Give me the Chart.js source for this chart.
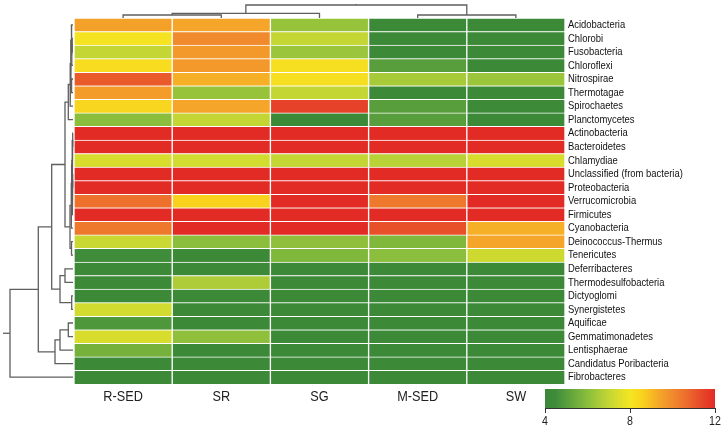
<!DOCTYPE html>
<html><head><meta charset="utf-8">
<script src="https://cdn.jsdelivr.net/npm/chart.js@4.4.1/dist/chart.umd.min.js"></script>
<style>
html,body{margin:0;padding:0;background:#fff;}
#wrap{position:relative;width:724px;height:429px;background:#fff;}
#wrap canvas{position:absolute;left:0;top:0;width:724px;height:429px;}
</style></head><body>
<div id="wrap">
<canvas id="heat" width="724" height="429"></canvas>
<canvas id="dleft" width="724" height="429"></canvas>
<canvas id="dtop" width="724" height="429"></canvas>
<canvas id="cbar" width="724" height="429"></canvas>
</div>
<script>
// ---------- data ----------
const columns = ['R-SED', 'SR', 'SG', 'M-SED', 'SW'];
const phyla = ['Acidobacteria','Chlorobi','Fusobacteria','Chloroflexi','Nitrospirae','Thermotagae',
  'Spirochaetes','Planctomycetes','Actinobacteria','Bacteroidetes','Chlamydiae',
  'Unclassified (from bacteria)','Proteobacteria','Verrucomicrobia','Firmicutes','Cyanobacteria',
  'Deinococcus-Thermus','Tenericutes','Deferribacteres','Thermodesulfobacteria','Dictyoglomi',
  'Synergistetes','Aquificae','Gemmatimonadetes','Lentisphaerae','Candidatus Poribacteria','Fibrobacteres'];
const valRSED = [9.5, 8.1, 7.0, 8.3, 11.0, 9.6, 8.5, 6.0, 12, 12, 7.4, 12, 12, 10.6, 12, 10.4, 7.1, 4.5, 4.2, 4.2, 4.2, 7.3, 4.8, 7.4, 5.6, 4.2, 4.2];
const valSR   = [9.4, 10.0, 9.7, 9.7, 9.2, 6.2, 9.4, 7.0, 12, 12, 7.3, 12, 12, 8.6, 12, 12, 6.0, 4.2, 4.2, 6.6, 4.2, 4.2, 4.2, 6.1, 4.2, 4.2, 4.2];
const valSG   = [6.2, 7.0, 6.3, 8.2, 8.2, 7.0, 11.5, 4.2, 12, 12, 7.0, 12, 12, 12, 12, 12, 6.1, 5.8, 4.2, 4.2, 4.2, 4.2, 4.2, 4.2, 4.2, 4.2, 4.2];
const valMSED = [4.2, 4.2, 4.2, 5.0, 6.5, 4.2, 5.0, 5.0, 12, 12, 6.8, 12, 12, 10.4, 12, 11.2, 5.8, 6.0, 4.2, 4.2, 4.2, 4.2, 4.2, 4.2, 4.2, 4.2, 4.2];
const valSW   = [4.2, 4.2, 4.2, 4.2, 6.3, 4.2, 4.3, 4.2, 12, 12, 7.4, 12, 12, 12, 12, 9.2, 9.4, 7.2, 4.2, 4.2, 4.2, 4.2, 4.2, 4.2, 4.2, 4.2, 4.2];
const colorbarTicks = [4, 8, 12];

// row dendrogram (hclust-style merges: negative = leaf -(index+1), positive = earlier merge number)
const rowMerges = [[-2,-3],[1,-4],[-1,2],[-5,-6],[3,4],[5,-7],[6,-8],
  [-9,-10],[-12,-13],[9,-15],[8,10],[11,-11],[12,-14],[13,-16],[-17,-18],[14,15],[7,16],
  [-19,-20],[-21,-22],[18,19],[17,20],[-23,-24],[22,-25],[23,-26],[21,24],[25,-27]];
const rowHeights = [0.8,1.2,1.6,1.4,2.2,2.8,4.7,
  0.3,0.3,0.6,0.9,1.1,1.4,1.7,1.5,3.0,8.0,
  8.0,1.3,13,21.3,4.7,13,18,34.7,63];
const rowRootTop = 70;
// column dendrogram
const colMerges = [[-1,-2],[1,-3],[-4,-5],[2,3]];
const colHeights = [3, 4.7, 3, 13];
const colRootTop = 14;

// ---------- colour map ----------
const cmap = [
  [4.0,[58,135,55]],[4.5,[63,140,58]],[5.0,[88,158,60]],[6.0,[138,190,60]],[7.0,[196,214,52]],
  [8.0,[244,230,34]],[8.6,[249,210,30]],[9.3,[246,170,40]],[10.0,[240,138,44]],[10.6,[237,112,45]],
  [11.2,[232,80,42]],[12.0,[227,43,38]]];
function colorFor(v){
  if (v <= cmap[0][0]) return 'rgb(' + cmap[0][1].join(',') + ')';
  for (let i = 1; i < cmap.length; i++){
    if (v <= cmap[i][0]){
      const t = (v - cmap[i-1][0]) / (cmap[i][0] - cmap[i-1][0]);
      const a = cmap[i-1][1], b = cmap[i][1];
      return 'rgb(' + a.map((c,k)=>Math.round(c + (b[k]-c)*t)).join(',') + ')';
    }
  }
  return 'rgb(' + cmap[cmap.length-1][1].join(',') + ')';
}

const FONT = "'Liberation Sans',Arial,sans-serif";
// narrow (condensed) text rendering, like Arial Narrow in the original figure
const condense = {
  id: 'condense',
  beforeDraw(chart){
    const ctx = chart.ctx;
    if (ctx._condensed) return;
    const orig = ctx.fillText.bind(ctx);
    ctx.fillText = function(t, x, y){
      this.save(); this.translate(x, y); this.scale(0.82, 1); orig(t, 0, 0); this.restore();
    };
    ctx._condensed = true;
  }
};

// ---------- heatmap ----------
const seriesVals = [valRSED, valSR, valSG, valMSED, valSW];
new Chart(document.getElementById('heat'), {
  type: 'bar',
  plugins: [condense],
  data: {
    labels: phyla,
    datasets: seriesVals.map((vals, j) => ({
      label: columns[j],
      data: phyla.map(() => [j, j + 1]),
      backgroundColor: vals.map(colorFor),
      borderColor: '#ffffff',
      borderWidth: {top: 1, bottom: 0, left: 1, right: 1},
      borderSkipped: false,
      grouped: false,
      barPercentage: 1,
      categoryPercentage: 1
    }))
  },
  options: {
    responsive: false, animation: false, indexAxis: 'y',
    layout: {padding: {left: 74, top: 18, right: 0, bottom: 0}},
    plugins: {legend: {display: false}, tooltip: {enabled: false}},
    scales: {
      x: {type: 'linear', min: 0, max: 5, display: false},
      xlab: {type: 'category', labels: columns, position: 'bottom', offset: true, display: true,
        grid: {display: false, drawTicks: false}, border: {display: false},
        ticks: {font: {family: FONT, size: 15.5}, color: '#222', padding: 3},
        afterFit(s){ s.height = 45; }},
      y: {type: 'category', position: 'right', offset: true,
        grid: {display: false, drawTicks: false}, border: {display: false},
        ticks: {font: {family: FONT, size: 11.5}, color: '#111', padding: 3, autoSkip: false},
        afterFit(s){ s.width = 159; }}
    }
  }
});

// ---------- dendrogram helper ----------
function dendroSegments(merges, heights, rootTop){
  const pos = [], segs = [];
  const info = (id) => id < 0 ? {p: -id - 1 + 0.5, h: 0} : {p: pos[id - 1], h: heights[id - 1]};
  merges.forEach((m, k) => {
    const a = info(m[0]), b = info(m[1]), h = heights[k];
    pos[k] = (a.p + b.p) / 2;
    segs.push([[a.p, a.h], [a.p, h], [b.p, h], [b.p, b.h]]);
  });
  const last = merges.length - 1;
  segs.push([[pos[last], heights[last]], [pos[last], rootTop]]);
  return segs;
}
const lineStyle = {borderColor: '#5f5f5f', borderWidth: 1.3, pointRadius: 0, fill: false, tension: 0, clip: false};

// left (row) dendrogram: x = height (reversed), y = row position
new Chart(document.getElementById('dleft'), {
  type: 'line',
  data: {datasets: dendroSegments(rowMerges, rowHeights, rowRootTop).map(s => Object.assign({
    data: s.map(p => ({x: p[1], y: p[0]}))}, lineStyle))},
  options: {
    responsive: false, animation: false,
    layout: {padding: {left: 0, right: 651, top: 18, bottom: 45}},
    plugins: {legend: {display: false}, tooltip: {enabled: false}},
    scales: {
      x: {type: 'linear', min: 0, max: 73, reverse: true, display: false},
      y: {type: 'linear', min: 0, max: phyla.length, reverse: true, display: false}
    }
  }
});

// top (column) dendrogram
new Chart(document.getElementById('dtop'), {
  type: 'line',
  data: {datasets: dendroSegments(colMerges, colHeights, colRootTop).map(s => Object.assign({
    data: s.map(p => ({x: p[0], y: p[1]}))}, lineStyle))},
  options: {
    responsive: false, animation: false,
    layout: {padding: {left: 74, right: 159, top: 0, bottom: 411}},
    plugins: {legend: {display: false}, tooltip: {enabled: false}},
    scales: {
      x: {type: 'linear', min: 0, max: columns.length, display: false},
      y: {type: 'linear', min: 0, max: 18, display: false}
    }
  }
});

// ---------- colour bar ----------
new Chart(document.getElementById('cbar'), {
  type: 'bar',
  plugins: [condense],
  data: {
    labels: [''],
    datasets: [{
      data: [[colorbarTicks[0], colorbarTicks[colorbarTicks.length - 1]]],
      backgroundColor: (ctx) => {
        const ca = ctx.chart.chartArea;
        if (!ca) return '#888';
        const g = ctx.chart.ctx.createLinearGradient(ca.left, 0, ca.right, 0);
        cmap.forEach(s => g.addColorStop((s[0] - 4) / 8, 'rgb(' + s[1].join(',') + ')'));
        return g;
      },
      borderWidth: 0, barPercentage: 1, categoryPercentage: 1
    }]
  },
  options: {
    responsive: false, animation: false, indexAxis: 'y',
    layout: {padding: {left: 545, right: 9, top: 389, bottom: 0}},
    plugins: {legend: {display: false}, tooltip: {enabled: false}},
    scales: {
      x: {type: 'linear', min: 4, max: 12, position: 'bottom',
        afterBuildTicks(s){ s.ticks = colorbarTicks.map(v => ({value: v})); },
        grid: {display: true, drawOnChartArea: false, drawTicks: true, tickLength: 5, color: '#333', lineWidth: 1},
        border: {display: true, color: '#333', width: 1},
        ticks: {font: {family: FONT, size: 13}, color: '#222', padding: 1},
        afterFit(s){ s.height = 21; }},
      y: {type: 'category', display: false}
    }
  }
});
</script>
</body></html>
